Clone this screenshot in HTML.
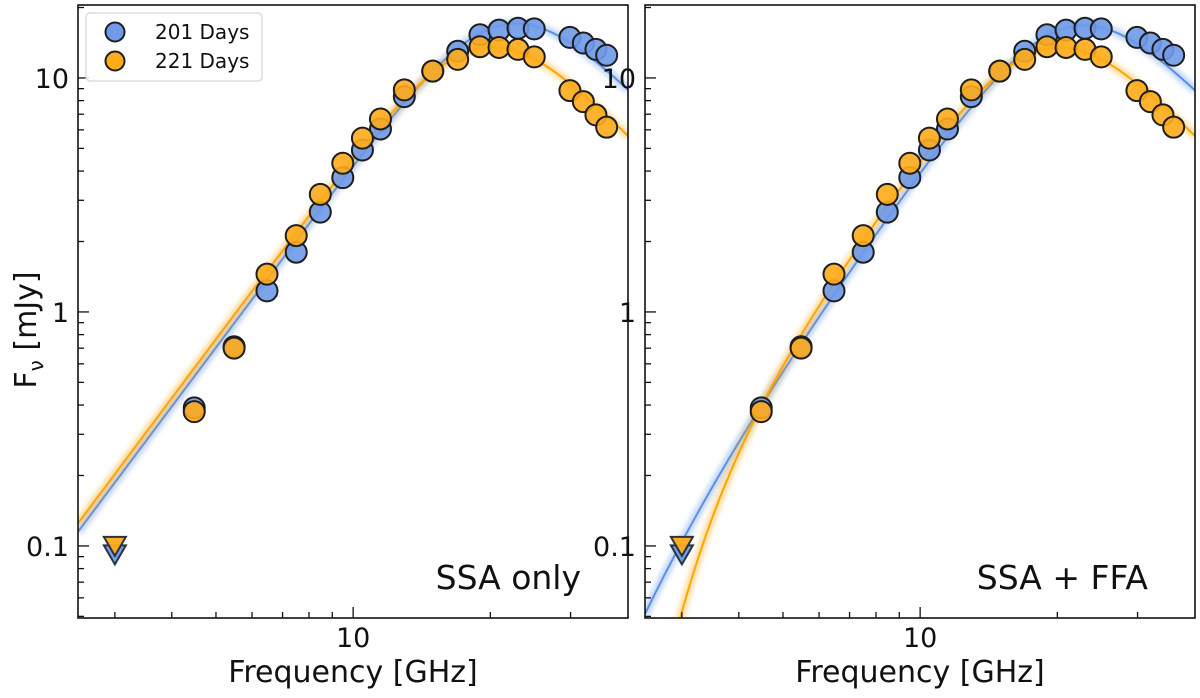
<!DOCTYPE html>
<html><head><meta charset="utf-8">
<style>
html,body{margin:0;padding:0;background:#fff;width:1200px;height:698px;overflow:hidden;}
svg{display:block;font-family:"DejaVu Sans","Liberation Sans",sans-serif;}
</style></head>
<body>
<svg id="chart" width="1200" height="698" viewBox="0 0 1200 698" xmlns="http://www.w3.org/2000/svg">
<defs>
<filter id="blur3" x="-10%" y="-10%" width="120%" height="120%"><feGaussianBlur stdDeviation="2.5"/></filter>
<clipPath id="clipL"><rect x="78" y="5" width="550" height="613"/></clipPath>
<clipPath id="clipR"><rect x="645" y="5" width="550" height="613"/></clipPath>
</defs>
</svg>
<script>
// ---- data ----
const freqs = [4.48, 5.48, 6.47, 7.5, 8.47, 9.49, 10.48, 11.48, 12.95, 14.95, 16.96, 18.98, 20.9, 23.0, 24.97, 29.9, 32.0, 34.1, 36.0];
const flux201 = [0.389, 0.71, 1.23, 1.80, 2.67, 3.75, 4.92, 6.05, 8.32, 10.7, 13.0, 15.3, 16.0, 16.3, 16.2, 14.9, 14.1, 13.25, 12.5];
const flux221 = [0.375, 0.70, 1.45, 2.12, 3.18, 4.32, 5.53, 6.68, 8.89, 10.7, 12.0, 13.6, 13.5, 13.25, 12.3, 8.83, 7.92, 6.95, 6.16];
const limitFreq = [3.0];
const limit201 = [0.092];
const limit221 = [0.100];
// model parameters: [thickCoef, thickIndex, thinCoef, thinIndex, smooth]
const ssa201 = [0.01073, 2.6, 14880, 2.0, 1.1];
const ssa221 = [0.01166, 2.6, 9280, 2.0, 1.1];
// FFA parameters: [nuFF, index]
const ffa201 = [2.21, 1.76];
const ffa221 = [3.3, 3.2];
const xTickLabels = ["10"];
const yTickVals = [0.1, 1, 10];
const yTickLabels = ["0.1", "1", "10"];

const NS = "http://www.w3.org/2000/svg";
const svg = document.getElementById("chart");
const FMIN = 2.49, FMAX = 40.1, YMIN = 0.0492, YMAX = 20.5;
const Y0 = 5, Y1 = 618;
function mk(tag, attrs, parent) {
  const e = document.createElementNS(NS, tag);
  for (const k in attrs) e.setAttribute(k, attrs[k]);
  (parent || svg).appendChild(e);
  return e;
}
function yScale(v) { return Y1 - (Math.log10(v) - Math.log10(YMIN)) / (Math.log10(YMAX) - Math.log10(YMIN)) * (Y1 - Y0); }
function makeX(x0, x1) { return f => x0 + (Math.log10(f) - Math.log10(FMIN)) / (Math.log10(FMAX) - Math.log10(FMIN)) * (x1 - x0); }
function ssa(p, f) {
  const t1 = p[0] * Math.pow(f, p[1]), t2 = p[2] * Math.pow(f, -p[3]);
  return Math.pow(Math.pow(t1, -p[4]) + Math.pow(t2, -p[4]), -1 / p[4]);
}
function model(p, ff, f) {
  let v = ssa(p, f);
  if (ff) v *= Math.exp(-Math.pow(f / ff[0], -ff[1]));
  return v;
}

function panel(x0, x1, useFFA, label, clipId, pname) {
  const g = mk("g", {});
  
  
  const xs = makeX(x0, x1);
  const series = [[ssa201, ffa201, "#5b8fe8", "model-201-days"], [ssa221, ffa221, "#ffa500", "model-221-days"]];
  const cg = mk("g", {"clip-path": "url(#" + clipId + ")"}, g);
  series.forEach(s => {
    let d = "";
    for (let i = 0; i <= 300; i++) {
      const f = FMIN * Math.pow(FMAX / FMIN, i / 300);
      const v = model(s[0], useFFA ? s[1] : null, f);
      d += (i ? "L" : "M") + xs(f).toFixed(2) + "," + yScale(Math.max(v, 1e-4)).toFixed(2);
    }
    const band = mk("path", {d: d, fill: "none", stroke: s[2], "stroke-width": 9, "stroke-opacity": 0.35, filter: "url(#blur3)"}, cg);
    
    
    const line = mk("path", {d: d, fill: "none", stroke: s[2], "stroke-width": 2}, cg);
    
    
  });
  const pts = [[flux201, limit201, "#6f9ae8", "point-201-days"], [flux221, limit221, "#ffab1a", "point-221-days"]];
  pts.forEach(s => {
    limitFreq.forEach((f, i) => {
      const cx = xs(f), cy = yScale(s[1][i]);
      const t = mk("path", {d: `M${cx - 11},${cy - 9}L${cx + 11},${cy - 9}L${cx},${cy + 10}Z`, fill: s[2], stroke: "#2b3340", "stroke-width": 2, "fill-opacity": 0.95}, g);
      
      
    });
  });
  pts.forEach(s => {
    freqs.forEach((f, i) => {
      const c = mk("circle", {cx: xs(f), cy: yScale(s[0][i]), r: 10.5, fill: s[2], "fill-opacity": 0.9, stroke: "#1e1e1e", "stroke-width": 2}, g);
      
      
    });
  });
  const fr = mk("rect", {x: x0, y: Y0, width: x1 - x0, height: Y1 - Y0, fill: "none", stroke: "#111", "stroke-width": 1.6}, g);
  
  
  [3,4,5,6,7,8,9,10,20,30].forEach(f => {
    const x = xs(f), L = f === 10 ? 11 : 6;
    const t = mk("line", {x1: x, x2: x, y1: Y1, y2: Y1 - L, stroke: "#111", "stroke-width": 1.3}, g);
    
    
  });
  const xl = mk("text", {x: xs(10), y: 647, "text-anchor": "middle", "font-size": 27, fill: "#111"}, g);
  xl.textContent = xTickLabels[0];
  
  
  for (let dec = -2; dec <= 1; dec++) {
    for (let m = 1; m <= 9; m++) {
      const v = m * Math.pow(10, dec);
      if (v < YMIN || v > YMAX) continue;
      const y = yScale(v), L = m === 1 ? 11 : 6;
      const t = mk("line", {x1: x0, x2: x0 + L, y1: y, y2: y, stroke: "#111", "stroke-width": 1.3}, g);
      
      
    }
  }
  yTickVals.forEach((v, i) => {
    const t = mk("text", {x: x0 - 9, y: yScale(v) + 10, "text-anchor": "end", "font-size": 27, fill: "#111"}, g);
    t.textContent = yTickLabels[i];
    
    
  });
  const at = mk("text", {x: (x0 + x1) / 2, y: 682, "text-anchor": "middle", "font-size": 30, fill: "#111"}, g);
  at.textContent = "Frequency [GHz]";
  
  
  const pl = mk("text", {x: x1 - 47, y: 589, "text-anchor": "end", "font-size": 33, fill: "#111"}, g);
  pl.textContent = label;
  
  
}
panel(78, 628, false, "SSA only", "clipL", "panel-ssa-only");
panel(645, 1195, true, "SSA + FFA", "clipR", "panel-ssa-ffa");

const yt = mk("text", {transform: "translate(36,330) rotate(-90)", "text-anchor": "middle", "font-size": 30, fill: "#111"});
yt.innerHTML = 'F<tspan font-size="20" dy="7">ν</tspan><tspan dy="-7"> [mJy]</tspan>';



const lg = mk("g", {});


const lb = mk("rect", {x: 86, y: 13, width: 176, height: 68, rx: 4, fill: "#fff", "fill-opacity": 0.85, stroke: "#d6d6d6", "stroke-width": 1.2}, lg);


[["#6f9ae8", "201 Days", 32], ["#ffab1a", "221 Days", 61]].forEach(e => {
  const c = mk("circle", {cx: 115, cy: e[2], r: 9.5, fill: e[0], stroke: "#1e1e1e", "stroke-width": 2}, lg);
  
  
  const t = mk("text", {x: 155, y: e[2] + 7, "font-size": 20, fill: "#111"}, lg);
  t.textContent = e[1];
  
  
});
</script>
</body></html>
